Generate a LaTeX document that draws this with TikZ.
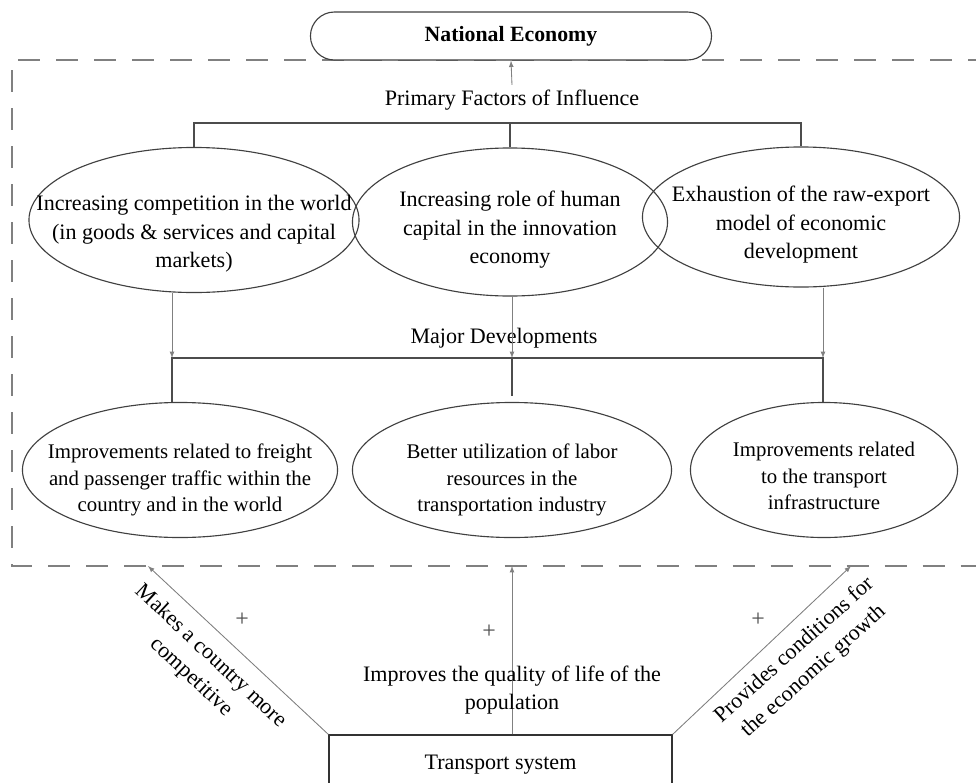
\documentclass[tikz,border=0pt]{standalone}
\usepackage{fontspec}
\setmainfont{Liberation Serif}
\usetikzlibrary{shapes.geometric}

\begin{document}
\begin{tikzpicture}[x=0.025cm, y=-0.025cm,
		fac/.style = {draw=black!75, line width=0.8pt, ellipse, inner sep=0pt},
		ftxt/.style = {align=center, font=\fontsize{15.7}{20.3}\selectfont},
		dtxt/.style = {align=center, font=\fontsize{14.8}{18.6}\selectfont},
		conn/.style = {draw=black!70, line width=0.9pt},
		arr/.style = {-latex, draw=gray, fill=gray, line width=0.6pt},
		boxline/.style = {draw=black!50, line width=2pt, dash pattern=on 0.55cm off 0.4cm},
		plusmark/.style = {font=\fontsize{17}{17}\selectfont, text=black!70},
	]
	\path[use as bounding box] (0,0) rectangle (976,783);
	% frame round the factors
	\draw[boxline] (990,60) -| (12,566) -- (990,566);
	\node[draw=black!75, line width=0.8pt, rounded corners=0.6cm, minimum width=10.025cm, minimum height=1.2cm, fill=white, ftxt, font=\fontsize{15.5}{19.5}\selectfont\bfseries] (NE) at (511,36) {National Economy};
	\node[ftxt] (PF) at (512,100) {Primary Factors of Influence};
	\draw[arr] (PF.north) -- (NE.south);
	% primary factors
	\node[fac, minimum width=8.25cm, minimum height=3.625cm, label={[ftxt, yshift=-0.35cm]center:{Increasing competition in the world\\(in goods \& services and capital\\markets)}}] (E1) at (194,220) {};
	\node[fac, minimum width=7.875cm, minimum height=3.7cm, label={[ftxt, yshift=-0.2cm]center:{Increasing role of human\\capital in the innovation\\economy}}] (E2) at (510,222) {};
	\node[fac, minimum width=7.925cm, minimum height=3.5cm, label={[ftxt, yshift=-0.2cm]center:{Exhaustion of the raw-export\\model of economic\\development}}] (E3) at (801,217) {};
	\coordinate (bar1) at (0,123);
	\draw[conn] (E1.north) -- (E1.north |- bar1) -- (E3.north |- bar1) -- (E3.north);
	\draw[conn] (E2.north) -- (E2.north |- bar1);
	% major developments
	\node[ftxt] (MD) at (504,338) {Major Developments};
	\node[fac, minimum width=7.875cm, minimum height=3.375cm, label={[dtxt, yshift=-0.25cm]center:{Improvements related to freight\\and passenger traffic within the\\country and in the world}}] (B1) at (180,470) {};
	\node[fac, minimum width=7.975cm, minimum height=3.375cm, label={[dtxt, yshift=-0.25cm]center:{Better utilization of labor\\resources in the\\transportation industry}}] (B2) at (512,470) {};
	\node[fac, minimum width=6.675cm, minimum height=3.375cm, label={[dtxt, yshift=-0.15cm]center:{Improvements related\\to the transport\\infrastructure}}] (B3) at (824,470) {};
	\coordinate (bar2) at (0,358);
	\coordinate (d1) at (172,0);
	\coordinate (d3) at (823,0);
	\draw[arr] (d1 |- E1.south) -- (d1 |- bar2);
	\draw[arr] (E2.south -| B2.north) -- (B2.north |- bar2);
	\draw[arr] (d3 |- E3.south) -- (d3 |- bar2);
	\draw[conn] (d1 |- B1.north) -- (d1 |- bar2) -- (d3 |- bar2) -- (d3 |- B3.north);
	\draw[conn] ([yshift=0.15cm]B2.north) -- (B2.north |- bar2);
	% transport system and its effects
	\node[draw=black!80, line width=0.9pt, minimum width=8.575cm, minimum height=1.5cm, ftxt] (T) at (500.5,765) {Transport system};
	\coordinate (f1) at (148,566);
	\coordinate (f2) at (512,566);
	\coordinate (f3) at (851,566);
	\draw[arr] (T.north west) -- (f1);
	\draw[arr] (f2 |- T.north) -- (f2);
	\draw[arr] (T.north east) -- (f3);
	\node[ftxt, rotate=-43] (L1) at (201,667) {Makes a country more\\competitive};
	\node[ftxt] (L2) at (512,690) {Improves the quality of life of the\\population};
	\node[ftxt, rotate=42] (L3) at (804,661) {Provides conditions for\\the economic growth};
	\node[plusmark] (p1) at (242,620) {+};
	\node[plusmark] (p2) at (489,632) {+};
	\node[plusmark] (p3) at (758,620) {+};
\end{tikzpicture}
\end{document}
